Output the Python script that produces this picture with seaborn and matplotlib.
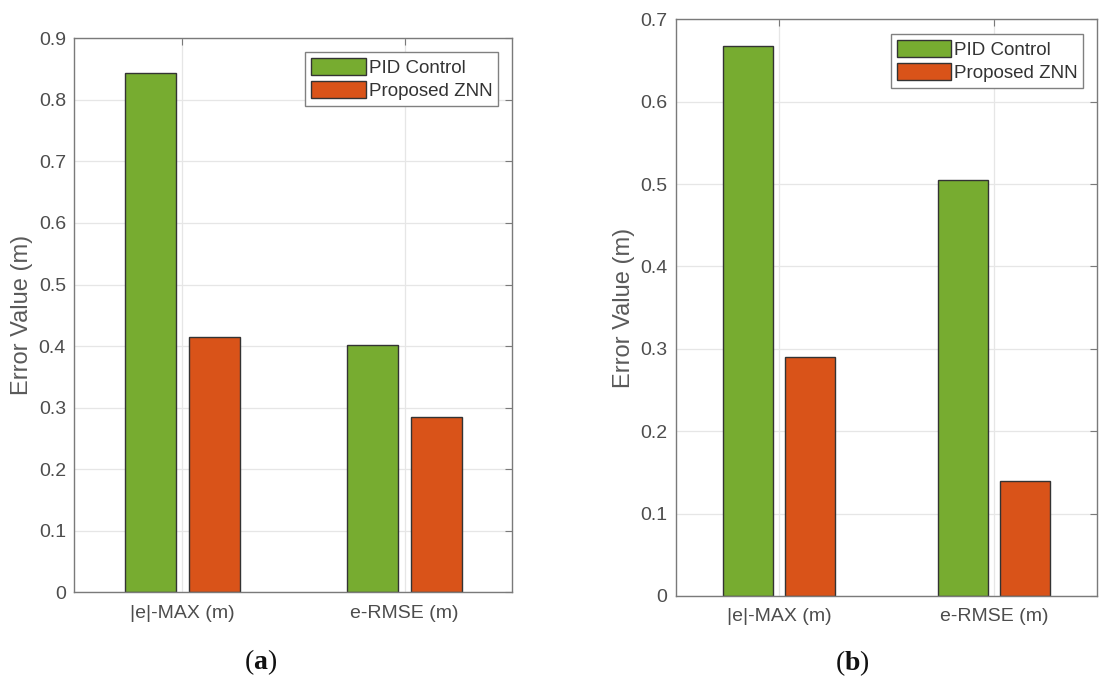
import matplotlib
matplotlib.use("Agg")
import matplotlib.pyplot as plt
import seaborn as sns
import pandas as pd

# ---- data ----
categories = ["|e|-MAX (m)", "e-RMSE (m)"]
methods = ["PID Control", "Proposed ZNN"]
pid_a = [0.844, 0.401]
znn_a = [0.415, 0.284]
pid_b = [0.668, 0.505]
znn_b = [0.290, 0.139]
yticks_a = [0, 0.1, 0.2, 0.3, 0.4, 0.5, 0.6, 0.7, 0.8, 0.9]
yticklabels_a = ["0", "0.1", "0.2", "0.3", "0.4", "0.5", "0.6", "0.7", "0.8", "0.9"]
yticks_b = [0, 0.1, 0.2, 0.3, 0.4, 0.5, 0.6, 0.7]
yticklabels_b = ["0", "0.1", "0.2", "0.3", "0.4", "0.5", "0.6", "0.7"]
ylabel = "Error Value (m)"
captions = ["a", "b"]

GREEN = "#77AC30"
ORANGE = "#D95319"
TICKC = "#4d4d4d"
SPINEC = "#7a7a7a"
GRIDC = "#e6e6e6"

sns.set_style("white")
plt.rcParams["font.family"] = ["Liberation Sans", "DejaVu Sans"]
plt.rcParams["mathtext.fontset"] = "custom"
plt.rcParams["mathtext.rm"] = "Liberation Serif"
plt.rcParams["mathtext.bf"] = "Liberation Serif:bold"

fig = plt.figure(figsize=(11.08, 6.86), dpi=100)
ax_a = fig.add_axes([0.06706, 0.13659, 0.3953, 0.8076])
ax_b = fig.add_axes([0.6098, 0.1312, 0.3805, 0.8407])


def make_df(pid, znn):
    return pd.DataFrame({
        "metric": categories + categories,
        "method": [methods[0]] * len(categories) + [methods[1]] * len(categories),
        "value": list(pid) + list(znn),
    })


def draw(ax, pid, znn, yticks, yticklabels, xlim, legend_anchor):
    df = make_df(pid, znn)
    sns.barplot(data=df, x="metric", y="value", hue="method", order=categories,
                hue_order=methods, palette=[GREEN, ORANGE], width=0.575, gap=0.2,
                edgecolor="#333333", linewidth=1.0, saturation=1, ax=ax, errorbar=None)
    ax.set_xlim(*xlim)
    ax.set_ylim(yticks[0], yticks[-1])
    ax.set_yticks(yticks)
    ax.set_yticklabels(yticklabels)
    ax.set_xlabel("")
    ax.set_ylabel(ylabel, fontsize=17, color="#5a5a5a", labelpad=4)
    ax.set_axisbelow(True)
    ax.grid(True, color=GRIDC, linewidth=0.9)
    ax.tick_params(axis="both", direction="in", length=5, width=0.8, color=SPINEC,
                   labelcolor=TICKC, labelsize=14, top=True, right=True)
    ax.tick_params(axis="x", pad=9)
    ax.tick_params(axis="y", pad=6)
    for s in ax.spines.values():
        s.set_visible(True)
        s.set_color(SPINEC)
        s.set_linewidth(1.0)
    leg = ax.legend(loc="upper right", bbox_to_anchor=legend_anchor, borderaxespad=0,
                    fontsize=13.5, frameon=True, fancybox=False, framealpha=1,
                    edgecolor="#808080", handlelength=2.9, handleheight=1.0,
                    handletextpad=0.15, labelspacing=0.22, borderpad=0.32, title=None)
    leg.get_frame().set_linewidth(1.0)
    for t in leg.get_texts():
        t.set_color("#333333")
    for h in leg.legend_handles:
        h.set_edgecolor("#333333")


draw(ax_a, pid_a, znn_a, yticks_a, yticklabels_a, (-0.486, 1.485), (0.968, 0.975))
draw(ax_b, pid_b, znn_b, yticks_b, yticklabels_b, (-0.48, 1.48), (0.967, 0.9745))

fig.text(261 / 1108, 1 - 662 / 686, "($\\mathbf{%s}$)" % captions[0], ha="center", va="center",
         fontsize=20, family="Liberation Serif", color="#111111")
fig.text(852 / 1108, 1 - 663 / 686, "($\\mathbf{%s}$)" % captions[1], ha="center", va="center",
         fontsize=20, family="Liberation Serif", color="#111111")

fig.savefig("out.png", dpi=100)
